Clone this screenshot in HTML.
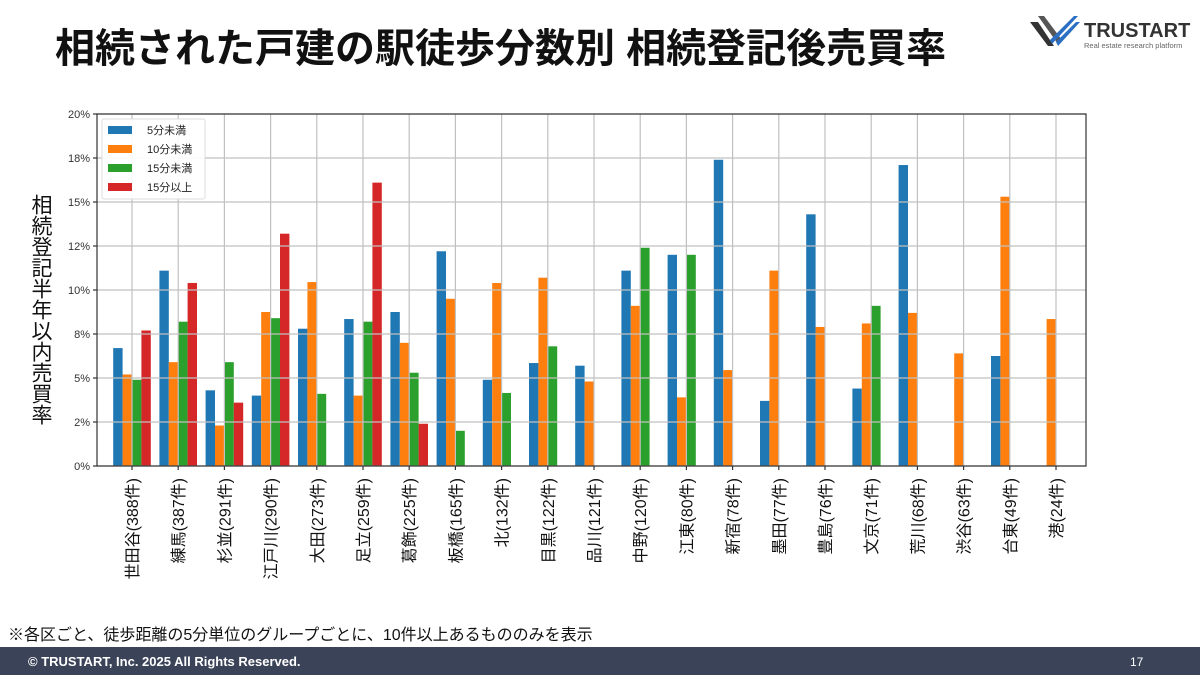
<!DOCTYPE html>
<html><head><meta charset="utf-8"><style>
body{margin:0;width:1200px;height:675px;overflow:hidden;background:#fff;font-family:"Liberation Sans","Noto Sans CJK JP",sans-serif;position:relative;}
#ylab{position:absolute;left:28px;top:194px;writing-mode:vertical-rl;font-size:21px;color:#111;line-height:24px;letter-spacing:0px;}
</style></head><body>
<svg width="1200" height="675" xmlns="http://www.w3.org/2000/svg" font-family="Liberation Sans, Noto Sans CJK JP, sans-serif">
<text x="55" y="62" font-size="40" font-weight="bold" fill="#111">相続された戸建の駅徒歩分数別 相続登記後売買率</text>
<g transform="translate(1030,14)">
<path d="M0 8 L18 32 L24 32 L8 8Z" fill="#333"/><path d="M8 2 L28 30 L32 26 L14 2Z" fill="#555"/>
<path d="M22 30 L48 2 L44 2 L20 26Z" fill="#2a6fc4"/><path d="M28 32 L50 8 L46 8 L26 28Z" fill="#2a6fc4"/>
<text x="54" y="23" font-size="20" font-weight="bold" fill="#333">TRUSTART</text>
<text x="54" y="34" font-size="7.5" fill="#666">Real estate research platform</text>
</g>
<g id="bars"></g>
<g id="grid2" stroke="#c0c0c0" stroke-width="1.2"></g>
<rect x="97" y="114" width="989" height="352" fill="none" stroke="#333" stroke-width="1.2"/>
<g id="yl" font-size="11" fill="#333" text-anchor="end"></g>
<g id="xl" font-size="16" fill="#111" text-anchor="end"></g>
<g transform="translate(102,119)">
<rect width="103" height="80" fill="#fff" fill-opacity="0.9" stroke="#ddd" rx="2"/>
<rect x="6" y="7" width="24" height="8" fill="#1f77b4"/><text x="45" y="15" font-size="11" fill="#222">5分未満</text>
<rect x="6" y="26" width="24" height="8" fill="#ff7f0e"/><text x="45" y="34" font-size="11" fill="#222">10分未満</text>
<rect x="6" y="45" width="24" height="8" fill="#2ca02c"/><text x="45" y="53" font-size="11" fill="#222">15分未満</text>
<rect x="6" y="64" width="24" height="8" fill="#d62728"/><text x="45" y="72" font-size="11" fill="#222">15分以上</text>
</g>
<text x="8" y="640" font-size="16" fill="#111">※各区ごと、徒歩距離の5分単位のグループごとに、10件以上あるもののみを表示</text>
<rect x="0" y="647" width="1200" height="28" fill="#3b4358"/>
<text x="28" y="666" font-size="13" font-weight="bold" fill="#fff">© TRUSTART, Inc. 2025 All Rights Reserved.</text>
<text x="1130" y="666" font-size="12" fill="#fff">17</text>
</svg>
<div id="ylab">相続登記半年以内売買率</div>
<script>
const ns="http://www.w3.org/2000/svg";
function el(p,t,a,txt){const e=document.createElementNS(ns,t);for(const k in a)e.setAttribute(k,a[k]);if(txt!==undefined)e.textContent=txt;document.getElementById(p).appendChild(e);}
const names=["世田谷(388件)","練馬(387件)","杉並(291件)","江戸川(290件)","大田(273件)","足立(259件)","葛飾(225件)","板橋(165件)","北(132件)","目黒(122件)","品川(121件)","中野(120件)","江東(80件)","新宿(78件)","墨田(77件)","豊島(76件)","文京(71件)","荒川(68件)","渋谷(63件)","台東(49件)","港(24件)"];
const d=[[6.7,5.2,4.9,7.7],[11.1,5.9,8.2,10.4],[4.3,2.3,5.9,3.6],[4.0,8.75,8.4,13.2],[7.8,10.45,4.1,0],[8.35,4.0,8.2,16.1],[8.75,7.0,5.3,2.4],[12.2,9.5,2.0,0],[4.9,10.4,4.15,0],[5.85,10.7,6.8,0],[5.7,4.8,0,0],[11.1,9.1,12.4,0],[12.0,3.9,12.0,0],[17.4,5.45,0,0],[3.7,11.1,0,0],[14.3,7.9,0,0],[4.4,8.1,9.1,0],[17.1,8.7,0,0],[0,6.4,0,0],[6.25,15.3,0,0],[0,8.35,0,0]];
const cols=["#1f77b4","#ff7f0e","#2ca02c","#d62728"];
const c0=132,s=46.2,w=9.4,y0=466,k=17.6;
const yl=["0%","2%","5%","8%","10%","12%","15%","18%","20%"];
for(let i=0;i<=8;i++){const y=466-i*44;el("grid2","line",{x1:97,x2:1086,y1:y,y2:y});el("grid2","line",{x1:93,x2:97,y1:y,y2:y,stroke:"#333"});el("yl","text",{x:90,y:y+4},yl[i]);}
for(let i=0;i<21;i++){const c=c0+i*s;el("grid2","line",{x1:c,x2:c,y1:114,y2:466});el("grid2","line",{x1:c,x2:c,y1:466,y2:470,stroke:"#333"});
el("xl","text",{transform:`translate(${c+6},478) rotate(-90)`},names[i]);
d[i].forEach((v,j)=>{if(v>0){const h=v*k;el("bars","rect",{x:c+(j-2)*w,y:y0-h,width:w,height:h,fill:cols[j]});}});}
</script>
</body></html>
